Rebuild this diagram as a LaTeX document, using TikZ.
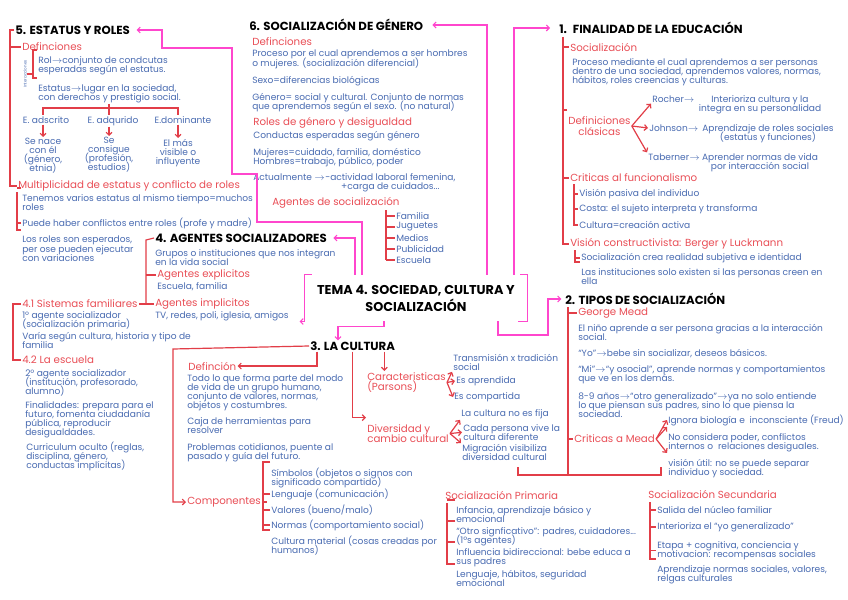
\documentclass[tikz,border=0pt]{standalone}
\usepackage{fontspec}
\setmainfont{Poppins}
\usetikzlibrary{arrows.meta}
\definecolor{bluetxt}{RGB}{74,108,178}
\definecolor{redtxt}{RGB}{233,78,86}
\definecolor{redline}{RGB}{226,62,72}
\definecolor{pinkline}{RGB}{255,70,205}
\newcommand{\toarr}{\ensuremath{\rightarrow}}
\newcommand{\tightls}{\lineskiplimit-20pt\relax}

\begin{document}
\begin{tikzpicture}[x=0.75pt,y=0.75pt,yscale=-1,xscale=1,
  txt/.style={anchor=north west,inner sep=0.75pt,align=left,text=bluetxt,font=\fontsize{6.8}{6.8}\selectfont\tightls},
  ctxt/.style={txt,anchor=north,align=center},
  ltxt/.style={txt,anchor=west},
  tinytxt/.style={inner sep=0.5pt,text=bluetxt,font=\fontsize{3}{3}\selectfont},
  sub/.style={anchor=west,inner sep=0.75pt,align=left,text=redtxt,font=\fontsize{7.7}{8}\selectfont\tightls},
  head/.style={anchor=west,inner sep=0.75pt,text=black,font=\bfseries\fontsize{8.8}{9}\selectfont},
  rl/.style={draw=redline,line width=0.9pt},
  rar/.style={rl,-{Straight Barb[length=2.2pt,width=4.4pt]}},
  pk/.style={draw=pinkline,line width=0.8pt},
  par/.style={pk,-{Straight Barb[length=2.2pt,width=4.4pt]}}]
\path[use as bounding box,fill=white] (0,0) rectangle (848,599);

% Text Node: centre
\node[head,anchor=center,align=center,font=\bfseries\fontsize{9.6}{12.8}\selectfont,inner xsep=9pt,inner ysep=7.5pt] (tema) at (416,298) {TEMA 4. SOCIEDAD, CULTURA Y\\SOCIALIZACIÓN};
\draw[pk] ([xshift=5pt]tema.north west) -- (tema.north west) -- (tema.south west) -- ([xshift=-1pt]tema.south west);
\draw[par] (tema.south west) -- ([xshift=-4pt]tema.south west);
\draw[pk] ([xshift=-5pt]tema.north east) -- (tema.north east) -- (tema.south east) -- ([xshift=-7pt]tema.south east);

%% 5. ESTATUS Y ROLES
\node[head] (h5) at (14,30) {5. ESTATUS Y ROLES};
\node[sub] (def5) at (21,47) {Definciones};
\node[tinytxt,rotate=90] (inter5) at (25,74) {Interacciones};
\node[txt] (rol) at (37,55) {Rol\toarr conjunto de condcutas\\esperadas según el estatus.};
\node[txt] (est) at (37,83) {Estatus\toarr lugar en la sociedad,\\con derechos y prestigio social.};
\node[ctxt] (ads) at (46,115) {E. adscrito};
\node[ctxt] (adq) at (113,115) {E. adqurido};
\node[ctxt] (dom) at (183,115) {E.dominante};
\node[ctxt] (nace) at (43,137) {Se nace\\con él\\(género,\\etnia)};
\node[ctxt] (cons) at (109,136) {Se\\consigue\\(profesión,\\estudios)};
\node[ctxt] (vis) at (178,138) {El más\\visible o\\influyente};
\node[sub] (mult) at (17,186) {Multiplicidad de estatus y conflicto de roles};
\node[txt] (ten) at (21,193) {Tenemos varios estatus al mismo tiempo=muchos\\roles};
\node[ltxt] (pue) at (21,223) {Puede haber conflictos entre roles (profe y madre)};
\node[txt] (esp) at (21,235) {Los roles son esperados,\\per ose pueden ejecutar\\con variaciones};

%Straight Lines
\coordinate (v5) at (10,30);
\draw[rl] (h5.west) -- (v5) |- (mult.west);
\draw[rl] (v5 |- def5.west) -- (def5.west);
\coordinate (vr) at (33,74);
\draw[rl] ([yshift=-3.8pt]rol.north west) -| (vr) |- ([yshift=-3.8pt]est.north west);
\draw[rl] (inter5.south) -- (vr);
\coordinate (hb) at (109,108);
\draw[rl] (est.south -| hb) -- (hb) -- (ads.north -| hb);
\draw[rl] (ads.north -| nace.north) -- (hb -| nace.north) -- (hb -| vis.north) -- (ads.north -| vis.north);
\draw[rar] (ads.south -| nace.north) -- (nace.north);
\draw[rar] (adq.south -| cons.north) -- (cons.north);
\draw[rar] (dom.south -| vis.north) -- (vis.north);
\coordinate (v51) at (17,192);
\draw[rl] (v51) |- ([yshift=-3.8pt]esp.north west);
\draw[rl] ([yshift=-3.8pt]ten.north west) -- ++(-4,0);
\draw[rl] (pue.west) -- ++(-4,0);

%% 4. AGENTES SOCIALIZADORES
\node[head] (h4) at (154,238) {4. AGENTES SOCIALIZADORES};
\node[txt] (grp) at (154,248) {Grupos o instituciones que nos integran\\en la vida social};
\node[sub] (expl) at (156,275) {Agentes explicitos};
\node[txt] (escf) at (156,281) {Escuela, familia};
\node[sub] (impl) at (154,304) {Agentes implicitos};
\node[txt] (tv) at (154,310) {TV, redes, poli, iglesia, amigos};
\node[sub] (sf) at (21,304) {4.1 Sistemas familiares};
\node[txt] (ag1) at (21,310) {1º agente socializador\\(socialización primaria)};
\node[txt] (var) at (21,331) {Varía según cultura, historia y tipo de\\familia};
\node[sub] (esc) at (21,360) {4.2 La escuela};
\node[txt] (ag2) at (24,368) {2º agente socializador\\(institución, profesorado,\\alumno)};
\node[txt] (fin) at (24,400) {Finalidades: prepara para el\\futuro, fomenta ciudadanía\\pública, reproducir\\desigualdades.};
\node[txt] (cur) at (25,441) {Curriculum oculto (reglas,\\disciplina, género,\\conductas implícitas)};

\coordinate (v4) at (146,240);
\draw[rl] (h4.west) -- (v4) -- (v4 |- sf.east);
\draw[rl] (sf.east) -- (impl.west);
\draw[rl] (v4 |- expl.west) -- (expl.west);
\coordinate (v41) at (13,304);
\draw[rl] (sf.west) -- (v41) |- (esc.west);

%% 6. SOCIALIZACION DE GENERO
\node[head] (h6) at (248,25) {6. SOCIALIZACIÓN DE GÉNERO};
\node[sub] (def6) at (251,42) {Definciones};
\node[txt] (proc6) at (251,49) {Proceso por el cual aprendemos a ser hombres\\o mujeres. (socialización diferencial)};
\node[txt] (sexo) at (251,75) {Sexo=diferencias biológicas};
\node[txt] (gen) at (251,92) {Género= social y cultural. Conjunto de normas\\que aprendemos según el sexo. (no natural)};
\node[sub] (rolg) at (252,123) {Roles de género y desigualdad};
\node[txt] (cond) at (252,130) {Conductas esperadas según género};
\node[txt] (muj) at (252,147) {Mujeres=cuidado, familia, doméstico\\Hombres=trabajo, público, poder};
\node[ltxt] (act) at (252,177) {Actualmente \toarr};
\node[txt,align=center] (actb) at (324,172) {-actividad laboral femenina,\\+carga de cuidados...};
\node[sub] (ags) at (271,203) {Agentes de socialización};
\foreach \t [count=\i] in {Familia,Juguetes,Medios,Publicidad,Escuela}
  \node[ltxt] (ga\i) at (395,{205+11*\i}) {\t};
\coordinate (v6) at (386,210);
\draw[rl] (v6) -- (v6 |- ga5.west);
\foreach \i in {1,...,5}
  \draw[rl] (v6 |- ga\i.west) -- (ga\i.west);

%% 1. FINALIDAD DE LA EDUCACION
\node[head] (h1) at (558,28) {1.\enspace FINALIDAD DE LA EDUCACIÓN};
\node[sub] (soc1) at (569,47) {Socialización};
\node[txt] (proc1) at (571,57) {Proceso mediante el cual aprendemos a ser personas\\dentro de una sociedad, aprendemos valores, normas,\\hábitos, roles creencias y culturas.};
\node[sub,align=center] (defc) at (567,126) {Definiciones\\clásicas};
\node[ltxt] (roch) at (651,99) {Rocher\toarr};
\node[ltxt] (john) at (648,128) {Johnson\toarr};
\node[ltxt] (tab) at (647,157) {Taberner\toarr};
\node[ctxt] (rochd) at (760,94) {Interioriza cultura y la\\integra en su personalidad};
\node[ctxt] (johnd) at (768,123) {Aprendizaje de roles sociales\\(estatus y funciones)};
\node[ctxt] (tabd) at (760,152) {Aprender normas de vida\\por interacción social};
\node[sub] (crit) at (569,178) {Criticas al funcionalismo};
\node[ltxt] (vis1) at (578,194) {Visión pasiva del individuo};
\node[ltxt] (costa) at (578,209) {Costa: el sujeto interpreta y transforma};
\node[ltxt] (cult) at (578,225) {Cultura=creación activa};
\node[sub] (vcon) at (569,244) {Visión constructivista: Berger y Luckmann};
\node[ltxt] (screa) at (580,258) {Socialización crea realidad subjetiva e identidad};
\node[txt] (inst) at (580,267) {Las instituciones solo existen si las personas creen en\\ella};

\coordinate (v1) at (563,37);
\draw[rl] (v1) |- (vcon.west);
\draw[rl] (v1 |- soc1.west) -- (soc1.west);
\draw[rl] ([yshift=-4pt]defc.north west) -- ++(-4,0);
\draw[rl] (v1 |- crit.west) -- (crit.west);
\draw[rar] (defc.east) -- (roch.south west);
\draw[rar] (defc.east) -- (john.west);
\draw[rar] (defc.east) -- (tab.north west);
\coordinate (v12) at (574,184);
\draw[rl] (v12) |- (cult.west);
\draw[rl] (v12 |- vis1.west) -- (vis1.west);
\draw[rl] (v12 |- costa.west) -- (costa.west);
\coordinate (v13) at (575,250);
\draw[rl] (v13) |- ([yshift=-3.8pt]inst.north west);
\draw[rl] (v13 |- screa.west) -- (screa.west);

%% 2. TIPOS DE SOCIALIZACION
\node[head] (h2) at (564,299) {2. TIPOS DE SOCIALIZACIÓN};
\node[sub] (gm) at (577,313) {George Mead};
\node[txt] (nino) at (577,323) {El niño aprende a ser persona gracias a la interacción\\social.};
\node[txt] (yo) at (577,348) {“Yo”\toarr bebe sin socializar, deseos básicos.};
\node[txt] (mi) at (577,364) {“Mi”\toarr “y osocial”, aprende normas y comportamientos\\que ve en los demás.};
\node[txt] (ocho) at (577,391) {8-9 años\toarr “otro generalizado”\toarr ya no solo entiende\\lo que piensan sus padres, sino lo que piensa la\\sociedad.};
\node[sub] (cmead) at (573,439) {Criticas a Mead};
\node[ltxt] (ign) at (667,420) {Ignora biología e\ \ inconsciente (Freud)};
\node[txt] (nocon) at (667,432) {No considera poder, conflictos\\internos o\ \ relaciones desiguales.};
\node[txt] (vutil) at (667,458) {visión útil: no se puede separar\\individuo y sociedad.};
\draw[rar] (cmead.east) -- (ign.west);
\draw[rar] (cmead.east) -- ([yshift=-3.8pt]nocon.north west);
\draw[rar] (cmead.east) -- ([yshift=-3.8pt]vutil.north west);

\node[sub] (sp) at (444,495) {Socialización Primaria};
\node[txt] (p1) at (455,505) {Infancia, aprendizaje básico y\\emocional};
\node[txt] (p2) at (455,526) {“Otro signficativo”: padres, cuidadores...\\(1ºs agentes)};
\node[txt] (p3) at (455,547) {Influencia bidireccional: bebe educa a\\sus padres};
\node[txt] (p4) at (455,569) {Lenguaje, hábitos, seguridad\\emocional};
\node[sub] (ss) at (647,494) {Socialización Secundaria};
\node[ltxt] (s1) at (656,510) {Salida del núcleo familiar};
\node[ltxt] (s2) at (656,527) {Interioriza el “yo generalizado”};
\node[txt] (s3) at (656,540) {Etapa + cognitiva, conciencia y\\motivacion: recompensas sociales};
\node[txt] (s4) at (656,564) {Aprendizaje normas sociales, valores,\\relgas culturales};

\coordinate (v2) at (568,307);
\coordinate (j2) at (568,475);
\draw[rl] (v2) -- (j2);
\draw[rl] (v2 |- gm.west) -- (gm.west);
\draw[rl] (v2 |- cmead.west) -- (cmead.west);
\coordinate (jl) at (518,475);
\coordinate (jr) at (661,475);
\draw[rl] ([yshift=-6pt]jl) -- (jl) -- (jr) -- ([yshift=-6pt]jr);
\coordinate (vp) at (447,503);
\draw[rl] (vp) |- ([yshift=-3.8pt]p4.north west);
\foreach \n in {p1,p2,p3}
  \draw[rl] ([yshift=-3.8pt]\n.north west) -- ++(-8,0);
\coordinate (vs) at (650,502);
\draw[rl] (vs) |- ([yshift=-3.8pt]s4.north west);
\foreach \n in {s1,s2,s3}
  \draw[rl] (\n.west) -- ++(-6,0);

%% 3. LA CULTURA
\node[head] (h3) at (309,346) {3. LA CULTURA};
\node[sub] (defin) at (187,366) {Definción};
\node[txt] (todo) at (186,373) {Todo lo que forma parte del modo\\de vida de un grupo humano,\\conjunto de valores, normas,\\objetos y costumbres.};
\node[txt] (caja) at (186,416) {Caja de herramientas para\\resolver};
\node[txt] (probl) at (186,442) {Problemas cotidianos, puente al\\pasado y guía del futuro.};
\node[sub,anchor=north west] (car) at (366,371) {Caracteristicas\\(Parsons)};
\node[txt] (tran) at (452,353) {Transmisión x tradición\\social};
\node[ltxt] (apr) at (455,381) {Es aprendida};
\node[ltxt] (compa) at (453,397) {Es compartida};
\node[sub,anchor=north west] (div) at (366,423) {Diversidad y\\cambio cultural};
\node[ltxt] (nofija) at (460,414) {La cultura no es fija};
\node[txt] (cada) at (462,423) {Cada persona vive la\\cultura diferente};
\node[txt] (migr) at (461,443) {Migración visibiliza\\diversidad cultural};
\node[sub] (comp) at (186,502) {Componentes};
\node[txt] (k1) at (270,467) {Símbolos (objetos o signos con\\significado compartido)};
\node[ltxt] (k2) at (270,494) {Lenguaje (comunicación)};
\node[ltxt] (k3) at (270,510) {Valores (bueno/malo)};
\node[ltxt] (k4) at (270,525) {Normas (comportamiento social)};
\node[txt] (k5) at (270,535) {Cultura material (cosas creadas por\\humanos)};

\coordinate (v3) at (173,349);
\draw[rar] (h3.west) -- (v3) |- (comp.west);
\draw[rar] ([xshift=6pt]h3.south west) |- (defin.east);
\coordinate (c3) at ([xshift=-9pt]h3.south east);
\draw[rar] (c3) -- (c3 |- car.north);
\draw[rar] (h3.south) |- ([yshift=-4pt]div.north west);
\draw[rar] (car.east) -- (tran.south west);
\draw[rar] (car.east) -- (apr.west);
\draw[rar] (car.east) -- (compa.west);
\draw[rar] (div.east) -- (nofija.south west);
\draw[rar] (div.east) -- (cada.west);
\draw[rar] (div.east) -- (migr.north west);
\draw[rl] ([yshift=-3.8pt]k1.north west) -- ++(-7,0) |- ([yshift=-3.8pt]k5.north west);
\foreach \n in {k2,k3,k4}
  \draw[rl] (\n.west) -- ++(-7,0);
\draw[rl] (comp.east) -- ++(5,0);

%% pink links from the centre
\draw[par] ([xshift=-40.5pt]tema.north) |- (257,222) |- (232,174) |- (162,48) |- ([xshift=4pt]h5.east);
\draw[par] ([xshift=-45.75pt]tema.north) |- ([xshift=4pt]h4.east);
\draw[par] ([xshift=53.25pt]tema.north) |- ([xshift=6pt]h6.east);
\draw[par] ([xshift=73.5pt]tema.north) |- ([xshift=-6pt]h1.west);
\draw[par] ([xshift=61.5pt]tema.south) |- (548,335) |- ([xshift=-2pt]h2.west);
\draw[par] ([xshift=-24pt]tema.south) -- ++(0,5) -| ([xshift=-11pt]h3.north);

\end{tikzpicture}
\end{document}
